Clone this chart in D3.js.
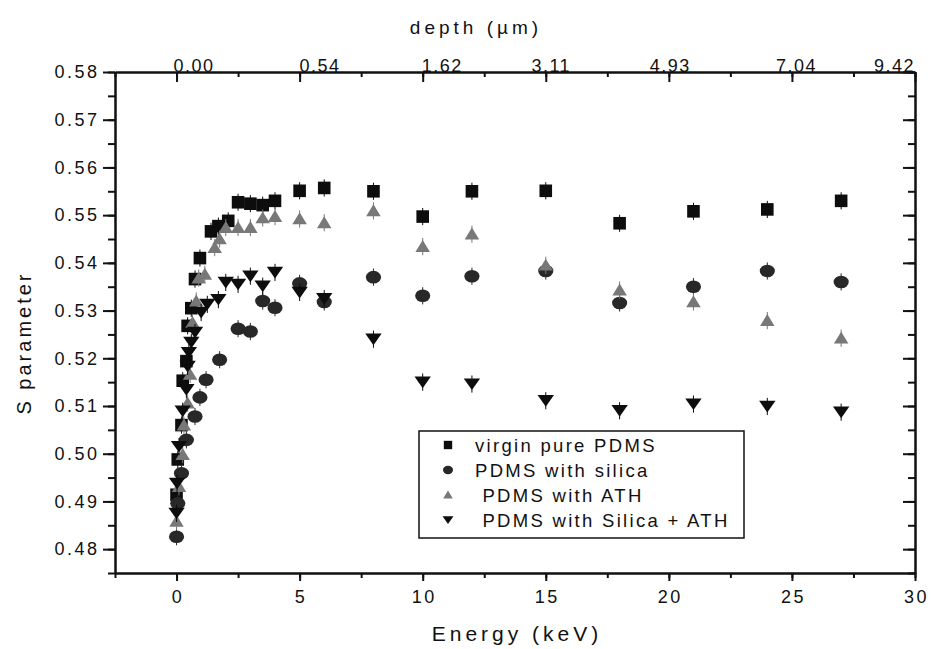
<!DOCTYPE html>
<html lang="en">
<head>
  <meta charset="UTF-8">
  <title>S parameter vs Energy</title>
  <style>
    body { margin: 0; background: #fff; }
    svg text { font-family: "Liberation Sans", Arial, sans-serif; fill: #111; }
  </style>
</head>
<body>
  <script src="https://cdn.jsdelivr.net/npm/d3@7"></script>
  <script>
    // axis ticks
    const energyTicks = [0, 5, 10, 15, 20, 25, 30];
    const depthLabels = ['0.00', '0.54', '1.62', '3.11', '4.93', '7.04', '9.42'];
    const sTicks = [0.48, 0.49, 0.50, 0.51, 0.52, 0.53, 0.54, 0.55, 0.56, 0.57, 0.58];

    const seriesNames = ['virgin pure PDMS', 'PDMS with silica', ' PDMS with ATH', ' PDMS with Silica + ATH'];

    // virgin pure PDMS (squares)
    const energyVirgin = [0, 0.05, 0.2, 0.25, 0.4, 0.45, 0.6, 0.75, 0.95, 1.4, 1.7, 2.1, 2.5, 3, 3.5, 4, 5, 6, 8, 10, 12, 15, 18, 21, 24, 27];
    const sVirgin = [0.4914, 0.4988, 0.5060, 0.5153, 0.5194, 0.5268, 0.5305, 0.5366, 0.5410, 0.5466, 0.5477, 0.5488, 0.5527, 0.5524, 0.5521, 0.5530, 0.5551, 0.5557, 0.5550, 0.5497, 0.5550, 0.5551, 0.5483, 0.5508, 0.5512, 0.5530];

    // PDMS with silica (circles)
    const energySilica = [0, 0.05, 0.2, 0.4, 0.75, 0.95, 1.2, 1.75, 2.5, 3, 3.5, 4, 5, 6, 8, 10, 12, 15, 18, 21, 24, 27];
    const sSilica = [0.4826, 0.4896, 0.4959, 0.5029, 0.5078, 0.5118, 0.5155, 0.5197, 0.5262, 0.5256, 0.5320, 0.5306, 0.5357, 0.5318, 0.5370, 0.5331, 0.5372, 0.5383, 0.5316, 0.5350, 0.5383, 0.5360];

    // PDMS with ATH (up triangles)
    const energyATH = [0, 0.1, 0.25, 0.3, 0.45, 0.55, 0.65, 0.8, 0.9, 1.15, 1.55, 1.75, 2.0, 2.5, 3, 3.5, 4, 5, 6, 8, 10, 12, 15, 18, 21, 24, 27];
    const sATH = [0.4858, 0.4931, 0.4998, 0.5060, 0.5106, 0.5166, 0.5275, 0.5320, 0.5368, 0.5376, 0.5432, 0.5450, 0.5474, 0.5474, 0.5474, 0.5494, 0.5497, 0.5492, 0.5484, 0.5509, 0.5434, 0.5460, 0.5395, 0.5343, 0.5318, 0.5279, 0.5242];

    // PDMS with silica + ATH (down triangles)
    const energySilATH = [0, 0.02, 0.1, 0.25, 0.4, 0.45, 0.5, 0.6, 0.75, 1.0, 1.25, 1.7, 2.0, 2.5, 3, 3.5, 4, 5, 6, 8, 10, 12, 15, 18, 21, 24, 27];
    const sSilATH = [0.4875, 0.4938, 0.5015, 0.5089, 0.5134, 0.5183, 0.5212, 0.5233, 0.5254, 0.5296, 0.5313, 0.5323, 0.5359, 0.5355, 0.5372, 0.5351, 0.5380, 0.5338, 0.5325, 0.5240, 0.5150, 0.5146, 0.5111, 0.5090, 0.5104, 0.5099, 0.5087];

    const sError = 0.0018;

    function sChart(){
      const _chart = {};
      const _width = 931, _height = 649;
      const _left = 115, _right = 915, _top = 72, _bottom = 573;
      const _x = d3.scaleLinear().domain([-2.5, 30]).range([_left, _right]);
      const _y = d3.scaleLinear().domain([0.475, 0.58]).range([_bottom, _top]);
      // label nudges for the depth axis, as in the original
      const _depthDx = [17, 20, 19, 5, 1, 4, -21];
      const _series = [
        {name: seriesNames[0], shape: 'square', color: '#0d0d0d', xs: energyVirgin, ys: sVirgin},
        {name: seriesNames[1], shape: 'circle', color: '#282828', xs: energySilica, ys: sSilica},
        {name: seriesNames[2], shape: 'up', color: '#787878', xs: energyATH, ys: sATH},
        {name: seriesNames[3], shape: 'down', color: '#0d0d0d', xs: energySilATH, ys: sSilATH}
      ];
      let _svg;

      _chart.render = function(){
        _svg = d3.select('body').append('svg')
          .attr('width', _width)
          .attr('height', _height);
        _svg.append('rect').attr('width', _width).attr('height', _height).attr('fill', '#fff');
        renderAxes();
        renderPoints();
        renderLegend();
        renderTitles();
      }

      function styleAxis(g){
        g.selectAll('path, line').attr('stroke', '#111').attr('stroke-width', 2);
        g.selectAll('text')
          .attr('fill', '#111')
          .style('font-family', '"Liberation Sans", Arial, sans-serif')
          .style('font-size', '18px')
          .style('letter-spacing', '2.5px');
      }

      function renderAxes(){
        const xMinor = d3.range(-2.5, 30.01, 2.5);
        const yMinor = d3.range(0.475, 0.5801, 0.005);

        // bottom
        _svg.append('g').attr('transform', `translate(0,${_bottom})`)
          .call(d3.axisBottom(_x).tickValues(xMinor).tickSize(5).tickSizeOuter(0).tickFormat(''))
          .call(styleAxis);
        const bottom = _svg.append('g').attr('transform', `translate(0,${_bottom})`)
          .call(d3.axisBottom(_x).tickValues(energyTicks).tickSize(8).tickSizeOuter(0).tickPadding(9).tickFormat(d3.format('d')))
          .call(styleAxis);
        bottom.selectAll('text').attr('dx', '1px');

        // top (depth)
        _svg.append('g').attr('transform', `translate(0,${_top})`)
          .call(d3.axisTop(_x).tickValues(xMinor).tickSize(-5).tickSizeOuter(0).tickFormat(''))
          .call(styleAxis);
        const top = _svg.append('g').attr('transform', `translate(0,${_top})`)
          .call(d3.axisTop(_x).tickValues(energyTicks).tickSize(-10).tickSizeOuter(0).tickPadding(0)
            .tickFormat((d, i) => depthLabels[i]))
          .call(styleAxis);
        top.selectAll('text').attr('dx', (d, i) => _depthDx[i]).style('letter-spacing', '1.5px');

        // left
        _svg.append('g').attr('transform', `translate(${_left},0)`)
          .call(d3.axisLeft(_y).tickValues(yMinor).tickSize(7).tickSizeOuter(0).tickFormat(''))
          .call(styleAxis);
        _svg.append('g').attr('transform', `translate(${_left},0)`)
          .call(d3.axisLeft(_y).tickValues(sTicks).tickSize(12).tickSizeOuter(0).tickPadding(3.5).tickFormat(d3.format('.2f')))
          .call(styleAxis);

        // right
        _svg.append('g').attr('transform', `translate(${_right},0)`)
          .call(d3.axisRight(_y).tickValues(yMinor).tickSize(-7).tickSizeOuter(0).tickFormat(''))
          .call(styleAxis);
        _svg.append('g').attr('transform', `translate(${_right},0)`)
          .call(d3.axisRight(_y).tickValues(sTicks).tickSize(-12).tickSizeOuter(0).tickFormat(''))
          .call(styleAxis);
      }

      function shapePath(shape, s){
        if(shape === 'square') return `M${-s},${-s}H${s}V${s}H${-s}Z`;
        if(shape === 'up') return `M0,${-s * 1.05}L${s * 1.15},${s * 0.85}H${-s * 1.15}Z`;
        if(shape === 'down') return `M0,${s * 0.95}L${s * 1.3},${-s * 0.9}H${-s * 1.3}Z`;
        return null;
      }

      function drawMarker(g, shape, color, s){
        if(shape === 'circle'){
          g.append('ellipse').attr('rx', s * 1.2).attr('ry', s * 1.0).attr('fill', color);
        } else {
          g.append('path').attr('d', shapePath(shape, s)).attr('fill', color);
        }
      }

      function renderPoints(){
        _series.forEach(function(ser){
          const pts = ser.xs.map((e, i) => ({e: e, s: ser.ys[i]}));
          const layer = _svg.append('g').attr('class', 'series');

          layer.selectAll('line.err').data(pts).enter().append('line')
            .attr('class', 'err')
            .attr('x1', d => _x(d.e)).attr('x2', d => _x(d.e))
            .attr('y1', d => _y(d.s - sError)).attr('y2', d => _y(d.s + sError))
            .attr('stroke', ser.color).attr('stroke-width', 1);

          layer.selectAll('g.pt').data(pts).enter().append('g')
            .attr('class', 'pt')
            .attr('transform', d => `translate(${_x(d.e)},${_y(d.s)})`)
            .each(function(){ drawMarker(d3.select(this), ser.shape, ser.color, 6.3); });
        });
      }

      function renderLegend(){
        const lg = _svg.append('g').attr('transform', 'translate(419,431)');
        lg.append('rect').attr('width', 325).attr('height', 107)
          .attr('fill', '#fff').attr('stroke', '#111').attr('stroke-width', 1.5);
        const rows = lg.selectAll('g.row').data(_series).enter().append('g')
          .attr('class', 'row')
          .attr('transform', (d, i) => `translate(29,${14 + i * 25})`);
        rows.each(function(d){ drawMarker(d3.select(this), d.shape, d.color, 4.2); });
        rows.append('text')
          .attr('x', 27).attr('y', 6.5)
          .style('white-space', 'pre')
          .style('font-size', '18.5px')
          .style('letter-spacing', '2.3px')
          .text(d => d.name);
      }

      function renderTitles(){
        _svg.append('text')
          .attr('x', 476).attr('y', 34)
          .attr('text-anchor', 'middle')
          .style('font-size', '19px').style('letter-spacing', '4px')
          .text('depth (µm)');
        _svg.append('text')
          .attr('x', 517).attr('y', 641)
          .attr('text-anchor', 'middle')
          .style('font-size', '21px').style('letter-spacing', '4px')
          .text('Energy (keV)');
        _svg.append('text')
          .attr('transform', 'translate(31,343) rotate(-90)')
          .attr('text-anchor', 'middle')
          .style('font-size', '20px').style('letter-spacing', '3px')
          .text('S parameter');
      }

      return _chart;
    }

    sChart().render();
  </script>
</body>
</html>
